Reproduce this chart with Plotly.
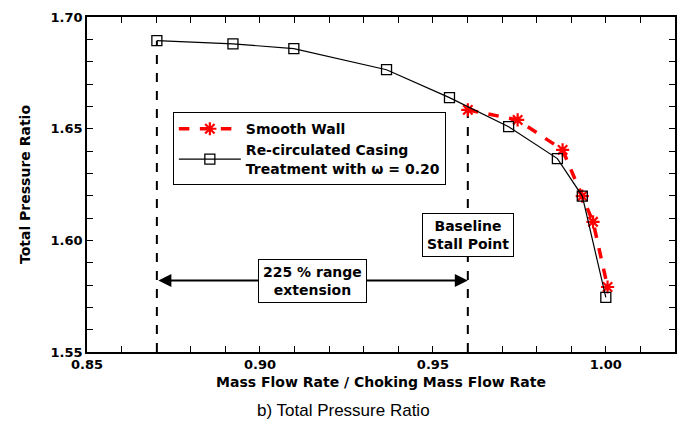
import plotly.graph_objects as go

# Data
recirc_x = [0.8702, 0.8922, 0.9098, 0.9366, 0.9548, 0.9719, 0.9860, 0.9932, 1.0000]
recirc_y = [1.6894, 1.6880, 1.6858, 1.6764, 1.6639, 1.6509, 1.6366, 1.6198, 1.5745]
smooth_x = [0.9601, 0.9745, 0.9875, 0.9932, 0.9963, 1.0005]
smooth_y = [1.6584, 1.6539, 1.6405, 1.6198, 1.6083, 1.5791]

x_range = [0.85, 1.02]
y_range = [1.55, 1.70]
x_tick_vals = [0.85, 0.86, 0.87, 0.88, 0.89, 0.90, 0.91, 0.92, 0.93, 0.94,
               0.95, 0.96, 0.97, 0.98, 0.99, 1.00, 1.01, 1.02]
x_tick_text = ["0.85", "", "", "", "", "0.90", "", "", "", "",
               "0.95", "", "", "", "", "1.00", "", ""]
y_tick_vals = [1.55, 1.56, 1.57, 1.58, 1.59, 1.60, 1.61, 1.62, 1.63, 1.64,
               1.65, 1.66, 1.67, 1.68, 1.69, 1.70]
y_tick_text = ["1.55", "", "", "", "", "1.60", "", "", "", "",
               "1.65", "", "", "", "", "1.70"]
arrow_y = 1.582
baseline_label_y = 1.6023

FONT = "DejaVu Sans, Verdana, sans-serif"
CAP_FONT = "Liberation Sans, Arial, Helvetica, sans-serif"

fig = go.Figure()

fig.add_trace(go.Scatter(
    x=smooth_x, y=smooth_y, mode="lines+markers", name="Smooth Wall",
    line=dict(color="#ff0000", width=3.5, dash="dash"),
    marker=dict(symbol="asterisk-open", size=11, color="#ff0000",
                line=dict(color="#ff0000", width=2.2)),
))
fig.add_trace(go.Scatter(
    x=recirc_x, y=recirc_y, mode="lines+markers",
    name="Re-circulated Casing<br>Treatment with ω = 0.20",
    line=dict(color="black", width=1.2),
    marker=dict(symbol="square-open", size=10, color="black",
                line=dict(color="black", width=1.3)),
))

ymin = y_range[0]
# Dashed vertical lines at stall points
for xv, yv in [(recirc_x[0], recirc_y[0]), (smooth_x[0], smooth_y[0])]:
    fig.add_shape(type="line", x0=xv, x1=xv, y0=ymin, y1=yv, xref="x", yref="y",
                  line=dict(color="black", width=2, dash="dash"), layer="below")

# Double arrow
fig.add_annotation(x=smooth_x[0], y=arrow_y, ax=recirc_x[0], ay=arrow_y,
                   xref="x", yref="y", axref="x", ayref="y", text="",
                   showarrow=True, arrowhead=2, arrowside="end+start",
                   arrowwidth=2, arrowsize=1.3, arrowcolor="black")
fig.add_annotation(x=(recirc_x[0] + smooth_x[0]) / 2, y=arrow_y, xref="x", yref="y",
                   text="225 % range<br>extension", showarrow=False,
                   bgcolor="white", bordercolor="black", borderwidth=1, borderpad=4,
                   font=dict(size=14, color="black", family=FONT, weight="bold"))
fig.add_annotation(x=smooth_x[0], y=baseline_label_y, xref="x", yref="y",
                   text="Baseline<br>Stall Point", showarrow=False,
                   bgcolor="white", bordercolor="black", borderwidth=1, borderpad=4,
                   font=dict(size=14, color="black", family=FONT, weight="bold"))

# Bottom caption
fig.add_annotation(x=0.436, y=-0.175, xref="paper", yref="paper", yanchor="middle",
                   text="b) Total Pressure Ratio", showarrow=False,
                   font=dict(size=17, color="black", family=CAP_FONT))

axis_common = dict(
    showgrid=False, zeroline=False, showline=True, linecolor="black", linewidth=1.6,
    mirror="ticks", tickmode="array",
    ticks="inside", ticklen=6, tickwidth=1.3, tickcolor="#000000",
    tickfont=dict(size=13, color="black", family=FONT, weight="bold"),
)

fig.update_xaxes(
    range=x_range, tickvals=x_tick_vals, ticktext=x_tick_text,
    title=dict(text="Mass Flow Rate / Choking Mass Flow Rate", standoff=6,
               font=dict(size=14, color="black", family=FONT, weight="bold")),
    **axis_common,
)
fig.update_yaxes(
    range=y_range, tickvals=y_tick_vals, ticktext=y_tick_text,
    title=dict(text="Total Pressure Ratio", standoff=17,
               font=dict(size=14, color="black", family=FONT, weight="bold")),
    **axis_common,
)

fig.update_layout(
    width=686, height=425,
    margin=dict(l=87, r=9, t=17, b=73),
    paper_bgcolor="white", plot_bgcolor="white",
    font=dict(family=FONT, color="black"),
    legend=dict(x=0.146, y=0.716, xanchor="left", yanchor="top",
                bordercolor="black", borderwidth=1, bgcolor="white",
                itemwidth=62, tracegroupgap=6,
                font=dict(size=14, color="black", family=FONT, weight="bold")),
    showlegend=True,
)

fig.write_html("out.html")
